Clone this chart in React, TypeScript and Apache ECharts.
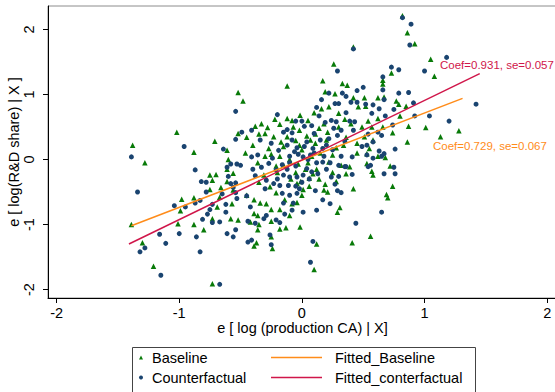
import React, { useEffect, useRef } from "react";
import * as echarts from "echarts";

// Baseline residual pairs [x, y]
const baselinePoints: [number, number][] = [
  [0.82, 2.21], [0.86, 1.95], [0.92, 1.78], [1.05, 1.54], [1.08, 1.28], [0.73, 1.33], [0.66, 1.22], [0.66, 1.16],
  [0.51, 0.95], [0.62, 0.95], [0.67, 0.96], [0.77, 0.9], [0.79, 0.85], [0.85, 0.82], [0.52, 0.82], [0.62, 0.63],
  [0.8, 0.67], [0.87, 0.51], [1.01, 0.49], [1.13, 0.35], [1.28, 0.44], [0.86, 0.27], [0.74, 0.41], [0.66, 0.5],
  [0.57, 0.5], [0.54, 0.59], [0.49, 0.5], [0.51, 0.35], [0.58, 0.3], [0.55, 0.17], [0.62, 0.05], [0.68, 0.03],
  [0.53, 0.09], [0.42, 1.73],
  [0.26, 1.47], [-0.12, 1.13], [-0.48, 0.9], [0.17, 1.21], [0.33, 1.17], [0.37, 1.14], [0.19, 1.04], [0.27, 1.01],
  [0.22, 0.81], [0.16, 0.78], [0.3, 0.71], [0.42, 0.95], [0.46, 0.81], [-0.015, 0.68], [-0.12, 0.63], [-0.08, 0.6],
  [-0.18, 0.54], [-0.38, 0.51], [-0.28, 0.49], [-0.23, 0.35], [-0.3, 0.4], [-0.35, 0.39], [-0.45, 0.34], [-0.4, 0.22],
  [-0.46, 0.1], [-0.27, 0.17], [-0.02, 0.45], [0.04, 0.36], [0.11, 0.39], [0.14, 0.48], [0.21, 0.42], [0.36, 0.34],
  [0.28, 0.18], [0.34, 0.22], [0.25, 0.07], [0.11, 0.25], [-0.05, 0.29], [-0.17, 0.27], [-0.25, 0.08],
  [-0.52, 1.03], [-0.52, 0.4], [-1.02, 0.42], [-1.38, 0.22], [-0.88, 0.11], [-0.71, 0.28], [-0.61, 0.14], [-0.6, 0.0],
  [-1.28, -0.05], [-1.39, -1.0], [-1.3, -1.28], [-1.21, -1.64], [-0.73, -1.91], [-0.98, -0.61], [-0.99, -0.79],
  [-0.88, -0.59], [-0.88, -1.0], [-1.01, -0.99], [-0.8, -1.08], [-0.75, -0.24], [-0.7, -0.23], [-0.73, -0.32],
  [-0.75, -0.46], [-0.66, -0.43], [-0.69, -0.73], [-0.67, -0.58], [-0.73, -0.91], [-0.61, -0.15], [-0.56, -0.21],
  [-0.61, -0.34], [-0.56, -0.47], [-0.58, -0.91], [-0.52, -0.93], [-0.57, -0.68],
  [-0.36, -0.05], [-0.21, -0.1], [-0.15, -0.09], [-0.03, -0.07], [0.05, -0.05], [0.22, -0.04], [0.32, -0.09],
  [0.39, -0.11], [0.36, -0.22], [0.28, -0.34], [0.19, -0.38], [0.18, -0.47], [0.21, -0.5], [0.06, -0.41],
  [0.01, -0.46], [-0.01, -0.34], [-0.04, -0.37], [-0.21, -0.51], [-0.14, -0.62], [-0.08, -0.68], [-0.04, -0.66],
  [-0.1, -0.86], [-0.18, -0.77], [-0.25, -0.77], [-0.29, -0.68], [-0.34, -0.67], [-0.39, -0.62], [-0.39, -0.83],
  [-0.36, -0.86], [-0.42, -0.96], [-0.35, -1.0], [-0.36, -1.08], [-0.25, -0.95], [-0.18, -1.07], [-0.13, -1.05],
  [-0.015, -1.04], [-0.25, -1.19], [-0.24, -1.37], [-0.39, -1.33], [-0.37, -1.28], [0.12, -1.3], [0.1, -1.69],
  [0.42, -0.45], [0.31, -0.74], [0.29, -0.81], [0.41, -1.28], [0.06, -0.29], [0.09, -0.22], [-0.45, -0.55],
  [-0.31, -0.24],
  [0.53, -0.06], [0.57, -0.18], [0.58, -0.24], [0.72, -0.1], [0.74, -0.41], [0.69, -0.54], [0.7, -0.59], [0.56, -1.18],
  [0.0, 0.15], [0.08, 0.05], [-0.1, 0.0], [0.15, 0.1], [-0.2, -0.2], [0.2, 0.3], [-0.05, -0.2], [0.12, -0.15],
  [0.45, 0.1], [0.4, 0.55], [-0.3, 0.05], [-0.15, 0.2], [0.05, 0.6], [0.3, 0.5], [-0.35, -0.35], [0.45, 0.25],
  [-0.02, 0.22], [0.07, 0.3], [-0.12, 0.35], [0.18, 0.55], [-0.07, 0.5], [0.03, -0.15], [-0.18, 0.05], [0.14, -0.3],
  [-0.09, -0.3], [0.25, -0.2], [0.1, 0.72], [-0.22, 0.62], [0.35, 0.62], [-0.33, 0.55], [0.0, -0.55], [-0.26, -0.42],
];

// Counterfactual residual pairs [x, y]
const counterfactualPoints: [number, number][] = [
  [0.82, 2.18], [0.89, 2.08], [0.88, 1.76], [1.18, 1.57], [1.0, 1.36], [0.79, 1.38], [0.73, 1.42], [0.66, 1.27],
  [0.5, 1.11], [0.66, 1.07], [0.67, 0.92], [0.79, 1.02], [0.87, 1.03], [0.91, 0.87], [0.75, 0.77], [0.63, 0.78],
  [0.58, 0.84], [0.52, 0.85], [0.57, 0.71], [0.68, 0.67], [0.92, 0.67], [1.04, 0.67], [1.2, 0.59], [1.42, 0.85],
  [0.74, 0.53], [0.62, 0.42], [0.65, 0.37], [0.54, 0.39], [0.53, 0.22], [0.58, 0.27], [0.76, 0.16], [0.63, 0.13],
  [0.65, 0.05], [0.49, 0.2], [0.42, 1.7],
  [0.29, 1.36], [0.45, 1.06], [0.22, 1.02], [0.33, 1.02], [0.36, 0.97], [0.16, 0.92], [0.27, 0.86], [0.3, 0.86],
  [0.4, 0.88], [0.45, 0.88], [0.14, 0.67], [0.19, 0.57], [0.24, 0.6], [0.28, 0.58], [0.36, 0.72], [0.39, 0.59],
  [-0.2, 0.69], [-0.05, 0.59], [0.0, 0.59], [0.02, 0.51], [-0.12, 0.46], [-0.15, 0.42], [-0.08, 0.41], [-0.41, 0.45],
  [-0.49, 0.42], [-0.34, 0.3], [0.04, 0.27], [-0.04, 0.18], [-0.03, 0.08], [0.01, 0.04], [0.07, 0.07], [0.17, 0.17],
  [0.15, 0.3], [0.22, 0.32], [0.29, 0.37], [0.26, 0.48], [0.32, 0.45], [0.42, 0.45], [0.43, 0.58], [-0.19, 0.14],
  [-0.36, 0.07], [-0.41, 0.04], [-0.1, 0.05], [0.09, 0.17],
  [-0.54, 0.74], [-0.54, 0.31], [-0.96, 0.2], [-1.39, 0.04], [-0.64, 0.16],
  [-1.34, -0.5], [-1.16, -1.15], [-1.11, -1.29], [-1.28, -1.36], [-1.32, -1.42], [-1.15, -1.78], [-0.67, -1.92],
  [-1.04, -0.71], [-0.95, -0.73], [-1.0, -1.14], [-0.86, -1.19], [-0.83, -1.42], [-0.87, -0.16], [-0.82, -0.34],
  [-0.78, -0.35], [-0.78, -0.5], [-0.83, -0.63], [-0.87, -0.67], [-0.75, -0.77], [-0.73, -0.69], [-0.77, -0.84],
  [-0.81, -0.92], [-0.73, -0.97], [-0.67, -0.96], [-0.62, -0.81], [-0.65, -0.53], [-0.62, -0.69], [-0.58, -0.37],
  [-0.54, -0.36], [-0.6, -0.26], [-0.61, -0.12], [-0.58, -0.07], [-0.53, -0.07], [-0.56, -0.43], [-0.54, -0.51],
  [-0.53, -0.6], [-0.61, -1.14], [-0.56, -1.19], [-0.54, -1.08],
  [-0.5, -0.09], [-0.4, -0.15], [-0.33, -0.12], [-0.27, -0.06], [-0.21, -0.16], [-0.15, -0.24], [-0.1, -0.27],
  [-0.04, -0.27], [0.01, -0.24], [0.04, -0.14], [0.08, -0.19], [0.13, -0.22], [0.17, -0.04], [0.23, -0.05],
  [0.3, -0.09], [0.35, -0.11], [0.24, -0.27], [0.3, -0.26], [-0.23, -0.37], [-0.18, -0.4], [-0.11, -0.4],
  [-0.05, -0.41], [-0.16, -0.52], [-0.1, -0.55], [-0.04, -0.52], [-0.15, -0.67], [-0.07, -0.67], [0.11, -0.48],
  [0.29, -0.48], [0.32, -0.51], [0.17, -0.62], [0.23, -0.68], [0.12, -0.78], [0.01, -0.81], [-0.14, -0.84],
  [-0.29, -0.86], [-0.45, -0.56], [-0.42, -0.73], [-0.44, -0.95], [-0.38, -0.98], [-0.31, -0.91], [-0.21, -0.93],
  [-0.18, -0.97], [-0.26, -1.16], [-0.25, -1.31], [-0.44, -1.27], [-0.41, -1.24], [0.09, -1.26], [0.07, -1.58],
  [0.44, -0.98], [-0.29, -0.32],
  [0.54, -0.11], [0.56, -0.09], [0.67, -0.22], [0.75, -0.12], [0.76, -0.22], [0.65, -0.81], [0.41, 0.04],
  [0.53, 0.07], [0.58, 0.02], [0.67, 0.09], [0.41, -0.23], [0.36, -0.11],
  [0.05, 0.0], [-0.05, -0.1], [0.1, 0.1], [-0.12, -0.15], [0.18, 0.05], [0.0, -0.35], [-0.2, -0.3], [0.25, 0.15],
  [-0.08, 0.3], [0.1, 0.4], [-0.3, -0.45], [0.2, -0.15], [-0.1, -0.05], [0.02, 0.2], [0.32, 0.05], [-0.25, 0.25],
  [-0.06, 0.12], [0.12, -0.05], [-0.16, -0.08], [0.06, -0.3], [-0.02, -0.45], [0.2, 0.22], [-0.12, 0.22],
  [0.08, 0.52], [-0.24, 0.02], [0.27, -0.38], [-0.08, -0.78], [0.35, 0.28], [-0.38, -0.25], [0.12, 0.8],
];

// Fitted lines (end points)
const fittedBaselineLine: [number, number][] = [[-1.39, -1.02], [1.31, 0.94]];
const fittedCounterfactualLine: [number, number][] = [[-1.41, -1.3], [1.45, 1.32]];

const xTicks = [-2, -1, 0, 1, 2];
const yTicks = [-2, -1, 0, 1, 2];

const seriesNames = ["Baseline", "Counterfactual", "Fitted_Baseline", "Fitted_conterfactual"];
const coefLabels = ["Coef=0.931, se=0.057", "Coef=0.729, se=0.067"];

const FONT = "'Liberation Sans', Arial, sans-serif";
const GREEN = "#087a08";
const NAVY = "#1a4470";
const ORANGE = "#ff8c1a";
const CRIMSON = "#d0164a";

export default function App() {
  const ref = useRef<HTMLDivElement>(null);
  useEffect(() => {
    if (!ref.current) return;
    const chart = echarts.init(ref.current, undefined, { renderer: "svg" });
    chart.setOption({
      animation: false,
      backgroundColor: "#ffffff",
      textStyle: { fontFamily: FONT },
      grid: {
        left: 48,
        top: 6,
        right: -2,
        bottom: 94,
        containLabel: false,
        outerBoundsMode: "none",
        show: true,
        borderColor: "#8c8c8c",
        borderWidth: 1,
      },
      xAxis: {
        type: "value",
        min: -2.07,
        max: 2.08,
        name: "e [ log (production CA) | X]",
        nameLocation: "middle",
        nameGap: 22,
        nameMoveOverlap: false,
        nameTextStyle: { fontSize: 14.5, color: "#000", fontFamily: FONT },
        axisLine: { show: true, onZero: false, lineStyle: { color: "#000", width: 1 } },
        axisTick: { show: true, length: 5, customValues: xTicks, lineStyle: { color: "#000" } },
        axisLabel: { customValues: xTicks, fontSize: 14.5, color: "#000", margin: 7, fontFamily: FONT },
        splitLine: { show: false },
      },
      yAxis: {
        type: "value",
        min: -2.13,
        max: 2.36,
        name: "e [ log(R&D share) | X ]",
        nameLocation: "middle",
        nameGap: 27,
        nameMoveOverlap: false,
        nameTextStyle: { fontSize: 14.5, color: "#000", fontFamily: FONT },
        axisLine: { show: true, onZero: false, lineStyle: { color: "#000", width: 1 } },
        axisTick: { show: true, length: 5, customValues: yTicks, lineStyle: { color: "#000" } },
        axisLabel: { customValues: yTicks, fontSize: 14.5, color: "#000", margin: 12, rotate: 90, fontFamily: FONT },
        splitLine: { show: false },
      },
      legend: [
        {
          orient: "vertical",
          left: 139,
          top: 350,
          width: 120,
          height: 60,
          itemGap: 5,
          itemWidth: 4,
          itemHeight: 4,
          padding: 0,
          data: [
            { name: seriesNames[0], icon: "triangle" },
            { name: seriesNames[1], icon: "circle" },
          ],
          textStyle: { fontSize: 14.5, color: "#000", fontFamily: FONT, padding: [0, 0, 0, 4] },
        },
        {
          orient: "vertical",
          left: 271,
          top: 350,
          width: 200,
          height: 60,
          itemGap: 5,
          itemWidth: 51,
          itemHeight: 1.5,
          padding: 0,
          data: [
            { name: seriesNames[2], icon: "rect" },
            { name: seriesNames[3], icon: "rect" },
          ],
          textStyle: { fontSize: 14.5, color: "#000", fontFamily: FONT, padding: [0, 0, 0, 8] },
        },
      ],
      graphic: [
        {
          type: "rect",
          left: 130,
          top: 345,
          shape: { width: 343, height: 60 },
          style: { fill: "none", stroke: "#444", lineWidth: 1 },
          silent: true,
        },
        {
          type: "text",
          left: 440,
          top: 59,
          style: { text: coefLabels[0], fill: CRIMSON, font: `11.5px ${FONT}` },
        },
        {
          type: "text",
          left: 433,
          top: 140,
          style: { text: coefLabels[1], fill: ORANGE, font: `11.5px ${FONT}` },
        },
      ],
      series: [
        {
          name: seriesNames[0],
          type: "scatter",
          symbol: "triangle",
          symbolSize: 5.5,
          itemStyle: { color: GREEN, opacity: 1 },
          data: baselinePoints,
        },
        {
          name: seriesNames[1],
          type: "scatter",
          symbol: "circle",
          symbolSize: 5,
          itemStyle: { color: NAVY, opacity: 1 },
          data: counterfactualPoints,
        },
        {
          name: seriesNames[2],
          type: "line",
          symbol: "none",
          showSymbol: false,
          lineStyle: { color: ORANGE, width: 1.5 },
          itemStyle: { color: ORANGE },
          data: fittedBaselineLine,
        },
        {
          name: seriesNames[3],
          type: "line",
          symbol: "none",
          showSymbol: false,
          lineStyle: { color: CRIMSON, width: 1.5 },
          itemStyle: { color: CRIMSON },
          data: fittedCounterfactualLine,
        },
      ],
    });
    return () => chart.dispose();
  }, []);
  return (
    <div
      ref={ref}
      style={{ position: "fixed", left: 0, top: 0, width: 555, height: 392, background: "#fff" }}
    />
  );
}
